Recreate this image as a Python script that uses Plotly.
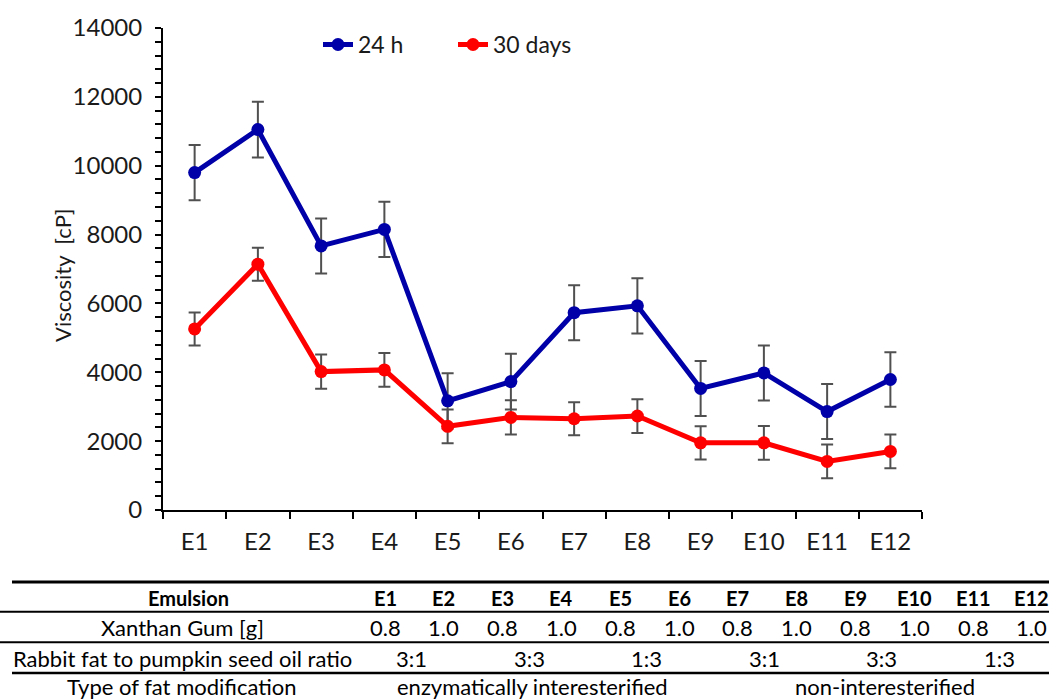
import plotly.graph_objects as go

# ---------------- data ----------------
categories = ["E1", "E2", "E3", "E4", "E5", "E6", "E7", "E8", "E9", "E10", "E11", "E12"]
visc_24h = [9800, 11050, 7670, 8150, 3170, 3730, 5730, 5930, 3530, 3980, 2860, 3790]
err_24h = [800, 810, 800, 800, 800, 810, 800, 800, 800, 800, 800, 790]
visc_30d = [5260, 7140, 4020, 4070, 2430, 2690, 2650, 2730, 1950, 1950, 1410, 1700]
err_30d = [480, 480, 500, 490, 490, 500, 480, 490, 480, 490, 490, 490]

y_ticks = [0, 2000, 4000, 6000, 8000, 10000, 12000, 14000]
y_ticktext = [str(v) for v in y_ticks]

row_labels = ["Emulsion", "Xanthan Gum [g]", "Rabbit fat to pumpkin seed oil ratio", "Type of fat modification"]
xanthan = ["0.8", "1.0", "0.8", "1.0", "0.8", "1.0", "0.8", "1.0", "0.8", "1.0", "0.8", "1.0"]
ratio_labels = ["3:1", "3:3", "1:3", "3:1", "3:3", "1:3"]
modification = ["enzymatically interesterified", "non-interesterified"]

# ---------------- layout geometry (pixels) ----------------
W, H = 1049, 700
PL, PR, PT, PB = 163, 922, 22, 510   # plot area
FONT = "Lato"
TXT = "#1a1a1a"

def px_x(x):
    return (x - PL) / (PR - PL)

def px_y(y):
    return (PB - y) / (PB - PT)

fig = go.Figure()

fig.add_trace(go.Scatter(
    x=categories, y=visc_24h, name="24 h", mode="lines+markers",
    line=dict(color="#0000A8", width=5),
    marker=dict(color="#0000A8", size=13),
    error_y=dict(type="data", array=err_24h, color="#505050", thickness=2, width=6),
))
fig.add_trace(go.Scatter(
    x=categories, y=visc_30d, name="30 days", mode="lines+markers",
    line=dict(color="#FF0000", width=5),
    marker=dict(color="#FF0000", size=13),
    error_y=dict(type="data", array=err_30d, color="#505050", thickness=2, width=6),
))

# ---------------- table (annotations + shapes) ----------------
col_x0, col_dx = 385, 58.8
label_cx = 182
row_y = [599, 629, 660, 689]

def tann(x, y, text, size=22):
    return dict(x=px_x(x), y=px_y(y), xref="paper", yref="paper", text=text,
                showarrow=False, xanchor="center", yanchor="middle",
                font=dict(family=FONT, size=size, color="#000"))

ann = []
for r, lab in enumerate(row_labels):
    if r == 0:
        ann.append(tann(label_cx + 6, row_y[r], "<b>%s</b>" % lab, 20))
    else:
        ann.append(tann(label_cx, row_y[r], lab, 22))
for i, c in enumerate(categories):
    ann.append(tann(col_x0 + col_dx * i, row_y[0], "<b>%s</b>" % c, 20))
    ann.append(tann(col_x0 + col_dx * i, row_y[1], xanthan[i], 22))
for j, t in enumerate(ratio_labels):
    ann.append(tann(col_x0 + col_dx * (2 * j + 0.5) - 3, row_y[2], t, 22))
for k, t in enumerate(modification):
    ann.append(tann(col_x0 + col_dx * (6 * k + 2.5), row_y[3], t, 22))

# y axis title
ann.append(dict(x=px_x(63), y=px_y(273), xref="paper", yref="paper",
                text="Viscosity\u00a0\u00a0[cP]",
                textangle=-90, showarrow=False, xanchor="center", yanchor="middle",
                font=dict(family=FONT, size=22, color=TXT)))

shapes = []
for y, w, x0 in [(583, 3, 12), (613, 2, 0), (644, 2, 0), (675, 2.5, 12)]:
    shapes.append(dict(type="line", xref="paper", yref="paper",
                       x0=px_x(x0), x1=px_x(W), y0=px_y(y), y1=px_y(y),
                       line=dict(color="#000", width=w)))

fig.update_layout(
    width=W, height=H,
    margin=dict(l=PL, r=W - PR, t=PT, b=H - PB),
    plot_bgcolor="white", paper_bgcolor="white",
    font=dict(family=FONT, size=22, color=TXT),
    showlegend=True,
    legend=dict(orientation="h", x=px_x(318), y=px_y(17), xanchor="left", yanchor="top",
                font=dict(family=FONT, size=23, color=TXT), bgcolor="rgba(0,0,0,0)",
                entrywidth=90, entrywidthmode="pixels", tracegroupgap=0),
    xaxis=dict(type="category", categoryorder="array", categoryarray=categories,
               range=[-0.5, 11.5], showline=True, linecolor="#000", linewidth=2,
               ticks="outside", tickson="boundaries", ticklen=7, tickwidth=2, tickcolor="#000",
               showgrid=False, zeroline=False, ticklabelstandoff=9,
               tickfont=dict(family=FONT, size=24, color=TXT)),
    xaxis2=dict(overlaying="x", anchor="y", type="linear", range=[-0.5, 11.5],
                tick0=-0.5, dtick=1, ticks="inside", ticklen=7, tickwidth=2, tickcolor="#000",
                showticklabels=False, showgrid=False, zeroline=False, showline=False, side="bottom"),
    yaxis=dict(range=[0, 14000], tickvals=y_ticks, ticktext=y_ticktext,
               showline=True, linecolor="#000", linewidth=2,
               ticks="outside", ticklen=6, tickwidth=2, tickcolor="#000",
               minor=dict(dtick=400, ticks="outside", ticklen=6, tickwidth=1.5, tickcolor="#000"),
               showgrid=False, zeroline=False, ticklabelstandoff=8,
               tickfont=dict(family=FONT, size=24, color=TXT)),
    annotations=ann, shapes=shapes,
)

fig.write_html("out.html")
